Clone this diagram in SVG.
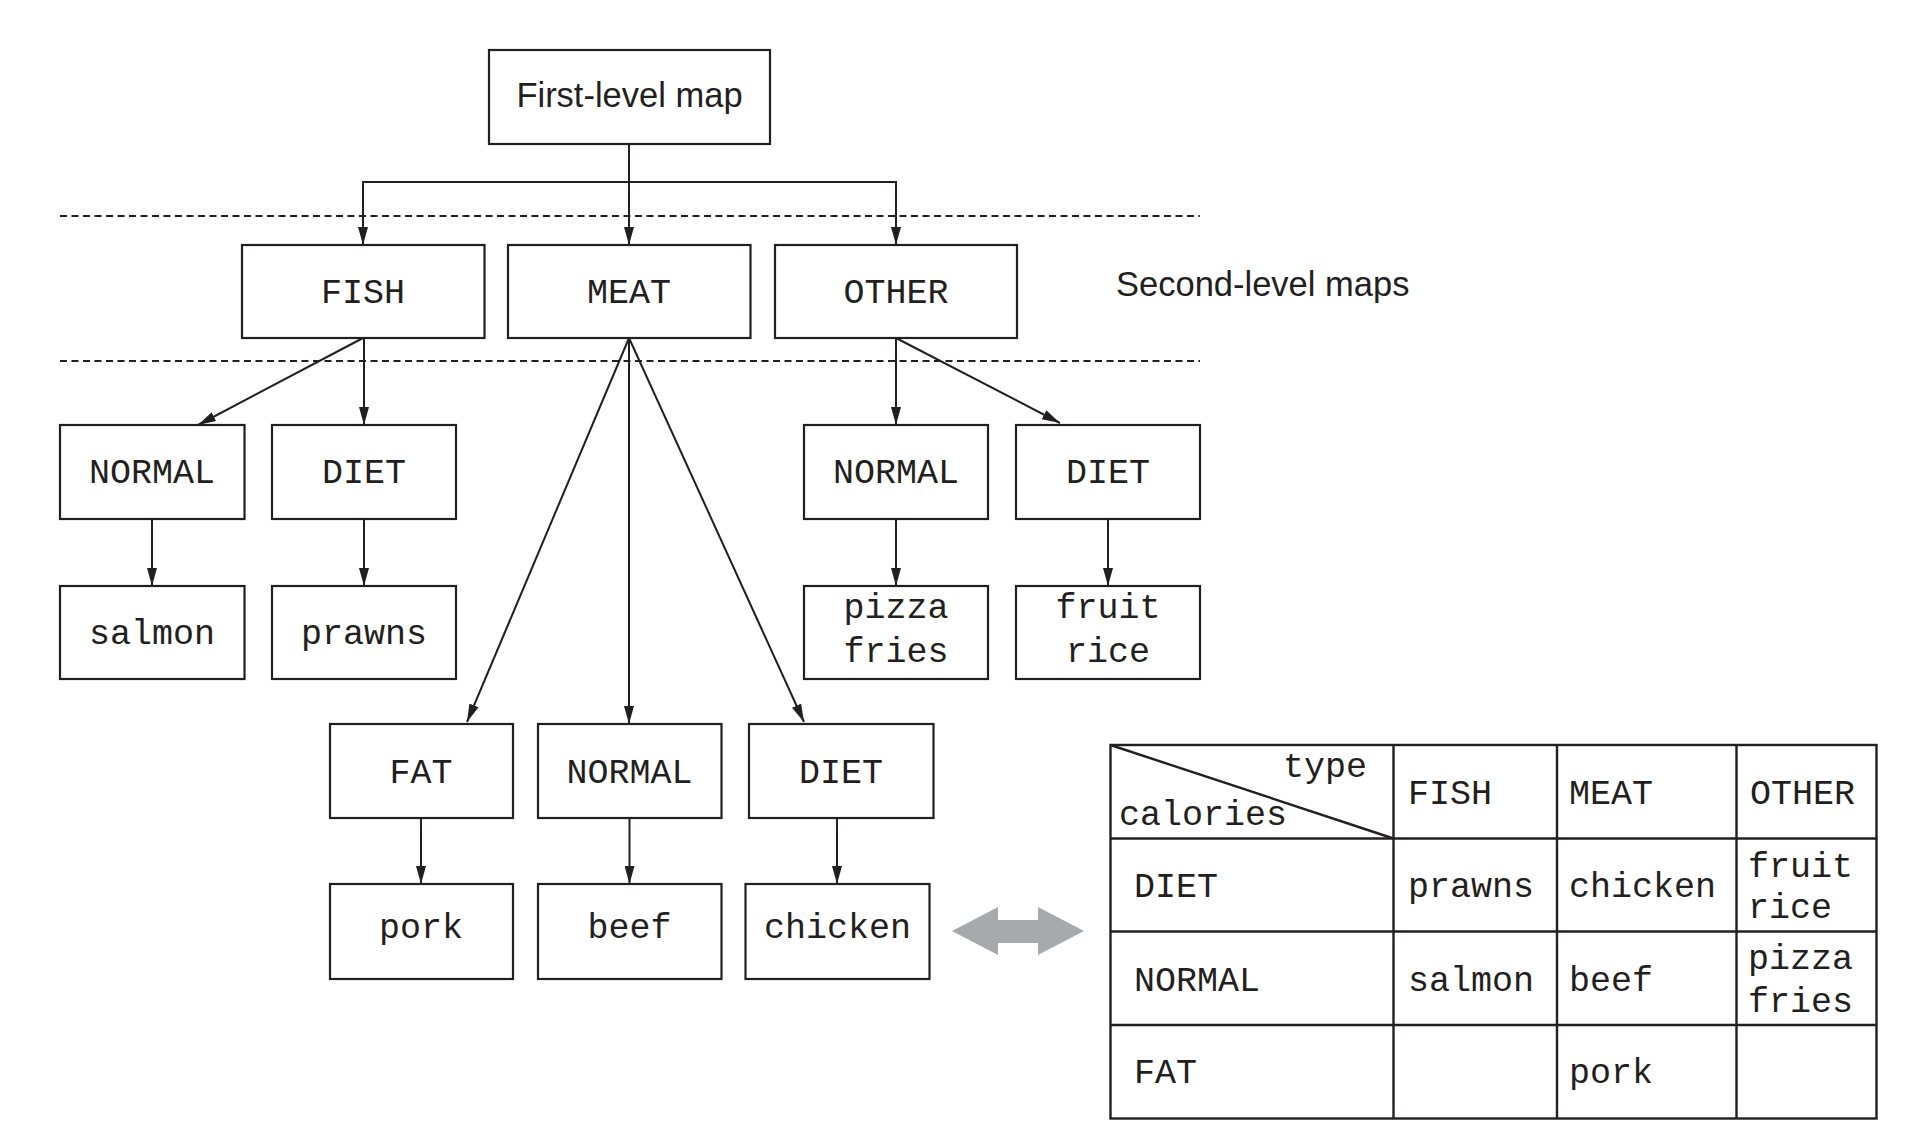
<svg xmlns="http://www.w3.org/2000/svg" width="1912" height="1144" viewBox="0 0 1912 1144">
<style>
.box{fill:#fff;stroke:#231f20;stroke-width:2.2}
.mono{font-family:"Liberation Mono","Courier New",monospace;font-size:35px;fill:#231f20}
.sans{font-family:"Liberation Sans",Arial,sans-serif;font-size:34.5px;fill:#231f20}
.c{text-anchor:middle}
.conn{fill:none;stroke:#231f20;stroke-width:2;marker-end:url(#ah)}
.dash{fill:none;stroke:#231f20;stroke-width:2;stroke-dasharray:7 4.5}
.grid{fill:none;stroke:#231f20;stroke-width:2.4}
</style>
<defs>
<marker id="ah" markerUnits="userSpaceOnUse" markerWidth="18" markerHeight="10" refX="18" refY="5" orient="auto">
<path d="M0,0 L18,5 L0,10 z" fill="#231f20"/>
</marker>
</defs>
<rect width="1912" height="1144" fill="#fff"/>

<g id="separators">
<line class="dash" x1="60" y1="216" x2="1200" y2="216"/>
<line class="dash" x1="60" y1="361" x2="1200" y2="361"/>
</g>

<g id="connectors">
<path class="conn" d="M629,144 V245"/>
<path class="conn" d="M629,182 H363 V245"/>
<path class="conn" d="M629,182 H896 V245"/>
<path class="conn" d="M363,338 L198,425"/>
<path class="conn" d="M364,338 V425"/>
<path class="conn" d="M152,519 V586"/>
<path class="conn" d="M364,519 V586"/>
<path class="conn" d="M629,338 L467,722"/>
<path class="conn" d="M629,338 V724"/>
<path class="conn" d="M629,338 L804,722"/>
<path class="conn" d="M896,338 V425"/>
<path class="conn" d="M896,338 L1060,423"/>
<path class="conn" d="M1108,519 V586"/>
<path class="conn" d="M896,519 V586"/>
<path class="conn" d="M421,818 V884"/>
<path class="conn" d="M629.5,818 V884"/>
<path class="conn" d="M837,818 V884"/>
</g>

<g id="first-level">
<rect class="box" x="489" y="50" width="281" height="94"/>
<text class="sans c" x="629.5" y="107">First-level map</text>
</g>

<g id="fish"><rect class="box" x="242" y="245" width="242.5" height="93"/><text class="mono c" x="363" y="303">FISH</text></g>
<g id="meat"><rect class="box" x="508" y="245" width="242.5" height="93"/><text class="mono c" x="629" y="303">MEAT</text></g>
<g id="other"><rect class="box" x="775" y="245" width="242" height="93"/><text class="mono c" x="896" y="303">OTHER</text></g>

<g id="second-level-label"><text class="sans" x="1116" y="296">Second-level maps</text></g>

<g id="fish-normal"><rect class="box" x="60" y="425" width="184.5" height="94"/><text class="mono c" x="152" y="483">NORMAL</text></g>
<g id="fish-diet"><rect class="box" x="272" y="425" width="184" height="94"/><text class="mono c" x="364" y="483">DIET</text></g>
<g id="salmon"><rect class="box" x="60" y="586" width="184.5" height="93"/><text class="mono c" x="152" y="644">salmon</text></g>
<g id="prawns"><rect class="box" x="272" y="586" width="184" height="93"/><text class="mono c" x="364" y="644">prawns</text></g>

<g id="other-normal"><rect class="box" x="804" y="425" width="184" height="94"/><text class="mono c" x="896" y="483">NORMAL</text></g>
<g id="other-diet"><rect class="box" x="1016" y="425" width="184" height="94"/><text class="mono c" x="1108" y="483">DIET</text></g>
<g id="pizza-fries"><rect class="box" x="804" y="586" width="184" height="93"/><text class="mono c" x="896" y="618">pizza</text><text class="mono c" x="896" y="662">fries</text></g>
<g id="fruit-rice"><rect class="box" x="1016" y="586" width="184" height="93"/><text class="mono c" x="1108" y="618">fruit</text><text class="mono c" x="1108" y="662">rice</text></g>

<g id="meat-fat"><rect class="box" x="330" y="724" width="183" height="94"/><text class="mono c" x="421" y="783">FAT</text></g>
<g id="meat-normal"><rect class="box" x="538" y="724" width="183.5" height="94"/><text class="mono c" x="629.5" y="783">NORMAL</text></g>
<g id="meat-diet"><rect class="box" x="749" y="724" width="184.5" height="94"/><text class="mono c" x="841" y="783">DIET</text></g>
<g id="pork"><rect class="box" x="330" y="884" width="183" height="95"/><text class="mono c" x="421" y="938">pork</text></g>
<g id="beef"><rect class="box" x="538" y="884" width="183.5" height="95"/><text class="mono c" x="629.5" y="938">beef</text></g>
<g id="chicken"><rect class="box" x="745.5" y="884" width="184" height="95"/><text class="mono c" x="837.5" y="938">chicken</text></g>

<g id="double-arrow">
<polygon points="952,931 998,907 998,920 1038,920 1038,907 1084,931 1038,955 1038,943 998,943 998,955" fill="#a7a9ac"/>
</g>

<g id="table">
<rect class="grid" x="1110.5" y="745" width="766" height="373.5"/>
<line class="grid" x1="1110.5" y1="838.5" x2="1876.5" y2="838.5"/>
<line class="grid" x1="1110.5" y1="931.5" x2="1876.5" y2="931.5"/>
<line class="grid" x1="1110.5" y1="1025" x2="1876.5" y2="1025"/>
<line class="grid" x1="1393.5" y1="745" x2="1393.5" y2="1118.5"/>
<line class="grid" x1="1557" y1="745" x2="1557" y2="1118.5"/>
<line class="grid" x1="1736.5" y1="745" x2="1736.5" y2="1118.5"/>
<line class="grid" x1="1110.5" y1="745" x2="1393.5" y2="838.5"/>
<text class="mono" x="1367" y="777" text-anchor="end">type</text>
<text class="mono" x="1119" y="825">calories</text>
<text class="mono" x="1408" y="804">FISH</text>
<text class="mono" x="1569" y="804">MEAT</text>
<text class="mono" x="1750" y="804">OTHER</text>
<text class="mono" x="1134" y="897">DIET</text>
<text class="mono" x="1408" y="897">prawns</text>
<text class="mono" x="1569" y="897">chicken</text>
<text class="mono" x="1748" y="877">fruit</text>
<text class="mono" x="1748" y="918">rice</text>
<text class="mono" x="1134" y="991">NORMAL</text>
<text class="mono" x="1408" y="991">salmon</text>
<text class="mono" x="1569" y="991">beef</text>
<text class="mono" x="1748" y="969">pizza</text>
<text class="mono" x="1748" y="1012">fries</text>
<text class="mono" x="1134" y="1083">FAT</text>
<text class="mono" x="1569" y="1083">pork</text>
</g>
</svg>
